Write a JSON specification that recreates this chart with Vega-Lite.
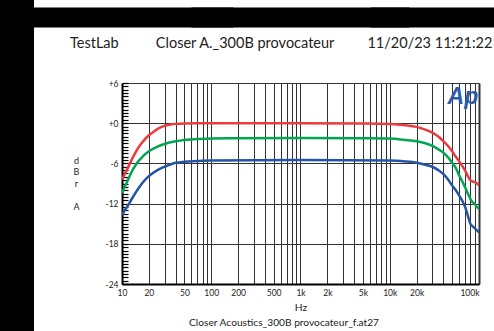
{
  "$schema": "https://vega.github.io/schema/vega-lite/v6.json",
  "width": 357,
  "height": 201,
  "autosize": {"type": "none"},
  "padding": {"left": 122, "top": 83, "right": 15, "bottom": 47},
  "background": "black",
  "config": {
    "view": {"fill": "white", "stroke": "white", "strokeWidth": 176},
    "font": "Lato"
  },
  "title": {
    "text": "TestLab\u00a0\u00a0\u00a0\u00a0\u00a0\u00a0\u00a0\u00a0\u00a0\u00a0Closer A._300B provocateur\u00a0\u00a0\u00a0\u00a0\u00a0\u00a0\u00a0\u00a0\u00a011/20/23 11:21:22",
    "anchor": "start",
    "frame": "group",
    "dx": -52,
    "offset": -155,
    "font": "Lato",
    "fontSize": 14.5,
    "fontWeight": "normal",
    "color": "#222222"
  },
  "resolve": {"axis": {"x": "independent", "y": "independent"}},
  "datasets": {
    "curves": [
      {"f": 10, "db": -8.4, "c": "red"}, {"f": 11, "db": -7.3, "c": "red"}, {"f": 12, "db": -6.3, "c": "red"}, {"f": 13, "db": -5.3, "c": "red"}, {"f": 14, "db": -4.5, "c": "red"}, {"f": 15, "db": -3.8, "c": "red"}, {"f": 17, "db": -2.8, "c": "red"}, {"f": 20, "db": -1.8, "c": "red"}, {"f": 23, "db": -1.2, "c": "red"}, {"f": 26, "db": -0.75, "c": "red"}, {"f": 30, "db": -0.4, "c": "red"}, {"f": 35, "db": -0.2, "c": "red"}, {"f": 40, "db": -0.1, "c": "red"}, {"f": 50, "db": -0.03, "c": "red"}, {"f": 70, "db": 0, "c": "red"}, {"f": 100, "db": 0, "c": "red"}, {"f": 1000, "db": 0, "c": "red"}, {"f": 5000, "db": -0.05, "c": "red"}, {"f": 10000, "db": -0.12, "c": "red"}, {"f": 15000, "db": -0.3, "c": "red"}, {"f": 20000, "db": -0.55, "c": "red"}, {"f": 25000, "db": -0.95, "c": "red"}, {"f": 30000, "db": -1.4, "c": "red"}, {"f": 35000, "db": -2.0, "c": "red"}, {"f": 40000, "db": -2.7, "c": "red"}, {"f": 45000, "db": -3.4, "c": "red"}, {"f": 50000, "db": -4.2, "c": "red"}, {"f": 55000, "db": -5.0, "c": "red"}, {"f": 60000, "db": -5.7, "c": "red"}, {"f": 65000, "db": -6.4, "c": "red"}, {"f": 70000, "db": -7.1, "c": "red"}, {"f": 75000, "db": -7.9, "c": "red"}, {"f": 80000, "db": -8.5, "c": "red"}, {"f": 85000, "db": -8.7, "c": "red"}, {"f": 90000, "db": -8.8, "c": "red"}, {"f": 95000, "db": -9.0, "c": "red"}, {"f": 100000, "db": -9.3, "c": "red"},
      {"f": 10, "db": -10.4, "c": "green"}, {"f": 11, "db": -9.2, "c": "green"}, {"f": 12, "db": -8.1, "c": "green"}, {"f": 13, "db": -7.1, "c": "green"}, {"f": 14, "db": -6.4, "c": "green"}, {"f": 15, "db": -5.8, "c": "green"}, {"f": 17, "db": -5.0, "c": "green"}, {"f": 20, "db": -4.2, "c": "green"}, {"f": 25, "db": -3.5, "c": "green"}, {"f": 30, "db": -3.1, "c": "green"}, {"f": 40, "db": -2.7, "c": "green"}, {"f": 50, "db": -2.5, "c": "green"}, {"f": 70, "db": -2.35, "c": "green"}, {"f": 100, "db": -2.3, "c": "green"}, {"f": 200, "db": -2.25, "c": "green"}, {"f": 1000, "db": -2.2, "c": "green"}, {"f": 5000, "db": -2.25, "c": "green"}, {"f": 10000, "db": -2.3, "c": "green"}, {"f": 15000, "db": -2.5, "c": "green"}, {"f": 20000, "db": -2.7, "c": "green"}, {"f": 25000, "db": -3.0, "c": "green"}, {"f": 30000, "db": -3.4, "c": "green"}, {"f": 35000, "db": -3.9, "c": "green"}, {"f": 40000, "db": -4.4, "c": "green"}, {"f": 45000, "db": -5.1, "c": "green"}, {"f": 50000, "db": -5.9, "c": "green"}, {"f": 55000, "db": -6.7, "c": "green"}, {"f": 60000, "db": -7.8, "c": "green"}, {"f": 65000, "db": -8.7, "c": "green"}, {"f": 70000, "db": -9.6, "c": "green"}, {"f": 75000, "db": -10.5, "c": "green"}, {"f": 80000, "db": -11.3, "c": "green"}, {"f": 85000, "db": -11.8, "c": "green"}, {"f": 90000, "db": -12.1, "c": "green"}, {"f": 95000, "db": -12.5, "c": "green"}, {"f": 100000, "db": -12.8, "c": "green"},
      {"f": 10, "db": -13.7, "c": "blue"}, {"f": 11, "db": -12.8, "c": "blue"}, {"f": 12, "db": -12.0, "c": "blue"}, {"f": 13, "db": -11.2, "c": "blue"}, {"f": 14, "db": -10.5, "c": "blue"}, {"f": 15, "db": -9.9, "c": "blue"}, {"f": 17, "db": -8.9, "c": "blue"}, {"f": 20, "db": -7.9, "c": "blue"}, {"f": 25, "db": -7.0, "c": "blue"}, {"f": 30, "db": -6.5, "c": "blue"}, {"f": 40, "db": -5.9, "c": "blue"}, {"f": 50, "db": -5.75, "c": "blue"}, {"f": 70, "db": -5.65, "c": "blue"}, {"f": 100, "db": -5.55, "c": "blue"}, {"f": 1000, "db": -5.5, "c": "blue"}, {"f": 10000, "db": -5.55, "c": "blue"}, {"f": 15000, "db": -5.7, "c": "blue"}, {"f": 20000, "db": -5.9, "c": "blue"}, {"f": 25000, "db": -6.2, "c": "blue"}, {"f": 30000, "db": -6.5, "c": "blue"}, {"f": 35000, "db": -7.0, "c": "blue"}, {"f": 40000, "db": -7.6, "c": "blue"}, {"f": 45000, "db": -8.4, "c": "blue"}, {"f": 50000, "db": -9.3, "c": "blue"}, {"f": 55000, "db": -10.0, "c": "blue"}, {"f": 60000, "db": -10.8, "c": "blue"}, {"f": 65000, "db": -11.6, "c": "blue"}, {"f": 70000, "db": -12.5, "c": "blue"}, {"f": 75000, "db": -13.8, "c": "blue"}, {"f": 80000, "db": -15.0, "c": "blue"}, {"f": 85000, "db": -15.4, "c": "blue"}, {"f": 90000, "db": -15.7, "c": "blue"}, {"f": 95000, "db": -16.0, "c": "blue"}, {"f": 100000, "db": -16.3, "c": "blue"}
    ],
    "logo": [{"label": "Ap"}]
  },
  "layer": [
    {
      "data": {"name": "curves"},
      "mark": {"type": "line", "strokeWidth": 2.5, "interpolate": "monotone", "clip": true},
      "encoding": {
        "x": {
          "field": "f", "type": "quantitative",
          "scale": {"type": "log", "domain": [10, 100000], "nice": false},
          "axis": {
            "values": [10,20,30,40,50,60,70,80,90,100,200,300,400,500,600,700,800,900,1000,2000,3000,4000,5000,6000,7000,8000,9000,10000,20000,30000,40000,50000,60000,70000,80000,90000,100000],
            "tickCount": 100,
            "labelExpr": "indexof([10,20,50,100,200,500,1000,2000,5000,10000,20000,100000], datum.value) >= 0 ? (datum.value >= 1000 ? (datum.value / 1000) + 'k' : '' + datum.value) : ''",
            "labelOverlap": false,
            "labelBound": false,
            "labelAlign": {"condition": {"test": "datum.value == 100000", "value": "right"}, "value": "center"},
            "labelFontSize": 8.5,
            "labelColor": "#222222",
            "labelPadding": 4,
            "ticks": false,
            "grid": true,
            "gridColor": "#333333",
            "gridWidth": {"condition": {"test": "datum.value == 100000", "value": 2}, "value": 1},
            "domain": true,
            "domainColor": "black",
            "domainWidth": 2,
            "title": ["Hz", "Closer Acoustics_300B provocateur_f.at27\u00a0\u00a0\u00a0\u00a0\u00a0\u00a0\u00a0\u00a0\u00a0\u00a0\u00a0\u00a0\u00a0\u200b"],
            "titleFontSize": 10.2,
            "titleFontWeight": "normal",
            "titleColor": "#222222",
            "titleLineHeight": 15,
            "titlePadding": 6
          }
        },
        "y": {
          "field": "db", "type": "quantitative",
          "scale": {"domain": [-24, 6], "nice": false, "zero": false},
          "axis": {
            "orient": "left",
            "values": [-24,-23.5,-23,-22.5,-22,-21.5,-21,-20.5,-20,-19.5,-19,-18.5,-18,-17.5,-17,-16.5,-16,-15.5,-15,-14.5,-14,-13.5,-13,-12.5,-12,-11.5,-11,-10.5,-10,-9.5,-9,-8.5,-8,-7.5,-7,-6.5,-6,-5.5,-5,-4.5,-4,-3.5,-3,-2.5,-2,-1.5,-1,-0.5,0,0.5,1,1.5,2,2.5,3,3.5,4,4.5,5,5.5,6],
            "tickCount": 100,
            "labelExpr": "datum.value % 6 == 0 ? (datum.value >= 0 ? '+' + datum.value : '' + datum.value) : ''",
            "labelOverlap": false,
            "labelBound": false,
            "labelFontSize": 8.5,
            "labelColor": "#222222",
            "labelPadding": 10,
            "ticks": true,
            "tickSize": -6,
            "tickColor": "black",
            "tickWidth": 1.2,
            "tickOpacity": 1,
            "grid": true,
            "gridColor": "#333333",
            "gridOpacity": {"condition": {"test": "datum.value % 6 == 0", "value": 1}, "value": 0},
            "domain": true,
            "domainColor": "black",
            "domainWidth": 2,
            "title": ["d", "B", "r"],
            "titleAngle": 0,
            "titleAlign": "center",
            "titleBaseline": "alphabetic",
            "titleX": -46,
            "titleY": 80,
            "titleFontSize": 9,
            "titleFontWeight": "normal",
            "titleColor": "#222222",
            "titleLineHeight": 11.5
          }
        },
        "color": {
          "field": "c", "type": "nominal",
          "scale": {"domain": ["red", "green", "blue"], "range": ["#ec3b3d", "#00a651", "#2355a6"]},
          "legend": null
        }
      }
    },
    {
      "data": {"name": "logo"},
      "mark": {"type": "text", "font": "Liberation Sans", "fontStyle": "italic", "fontWeight": "bold", "fontSize": 23, "color": "#2c5aa8", "align": "center", "baseline": "alphabetic"},
      "encoding": {
        "x": {
          "datum": 66000, "type": "quantitative",
          "axis": {
            "orient": "top",
            "offset": 56,
            "values": [10, 1000, 100000],
            "domain": false,
            "ticks": true,
            "tickSize": 20,
            "tickColor": "black",
            "tickCap": "butt",
            "tickWidth": {"condition": {"test": "datum.value == 10", "value": 222}, "value": 218},
            "labels": false,
            "grid": false,
            "title": null
          }
        },
        "y": {
          "datum": 2.9, "type": "quantitative",
          "axis": {
            "orient": "left",
            "domain": false,
            "ticks": false,
            "labels": false,
            "grid": false,
            "title": "A",
            "titleAngle": 0,
            "titleAlign": "center",
            "titleBaseline": "alphabetic",
            "titleX": -46,
            "titleY": 126,
            "titleFontSize": 9,
            "titleFontWeight": "normal",
            "titleColor": "#222222"
          }
        },
        "text": {"field": "label"}
      }
    }
  ]
}
